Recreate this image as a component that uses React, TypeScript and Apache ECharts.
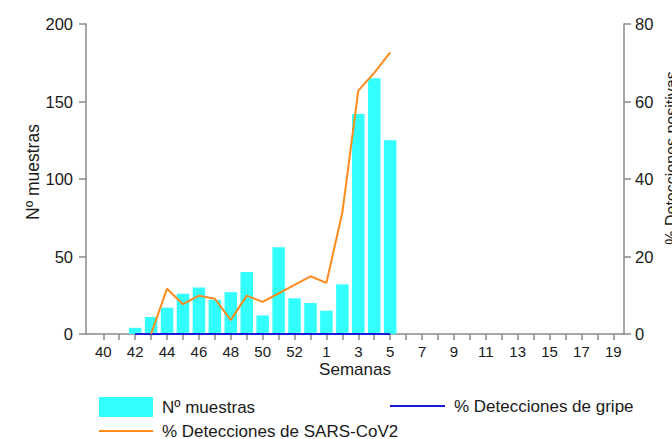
import React, { useEffect, useRef } from "react";
import * as echarts from "echarts";

const weeks: string[] = [
  "40", "41", "42", "43", "44", "45", "46", "47", "48", "49", "50", "51", "52", "53",
  "1", "2", "3", "4", "5", "6", "7", "8", "9", "10", "11", "12", "13", "14", "15", "16", "17", "18", "19",
];

const muestras: (number | null)[] = [
  null, null, 4, 11, 17, 26, 30, 22, 27, 40, 12, 56, 23, 20,
  15, 32, 142, 165, 125, null, null, null, null, null, null, null, null, null, null, null, null, null, null,
];

const gripe: (number | null)[] = [
  null, null, 0, 0, 0, 0, 0, 0, 0, 0, 0, 0, 0, 0,
  0, 0, 0, 0, 0, null, null, null, null, null, null, null, null, null, null, null, null, null, null,
];

const sarsCov2: (number | null)[] = [
  null, null, null, 0, 11.7, 7.7, 9.9, 9.1, 3.6, 9.9, 8.3, 10.5, 12.7, 14.9,
  13.2, 31.4, 62.8, 67.4, 72.7, null, null, null, null, null, null, null, null, null, null, null, null, null, null,
];

const leftTicks = { min: 0, max: 200, interval: 50 };
const rightTicks = { min: 0, max: 80, interval: 20 };

const FONT = "Arial, 'Liberation Sans', sans-serif";
const TEXT = "#1a1a1a";
const AXIS = "#8a8a8a";
const CYAN = "#33ffff";
const BLUE = "#1a1ad6";
const ORANGE = "#ff8a1c";

export default function App() {
  const ref = useRef<HTMLDivElement>(null);

  useEffect(() => {
    if (!ref.current) return;
    const chart = echarts.init(ref.current, undefined, { renderer: "svg" });
    const gridLeft = 95.3;
    const gridTop = 24;
    const gridW = 526;
    const gridH = 310;
    const axisLeftX = 86;
    const axisRightX = 624;
    const axisLine = { show: true, lineStyle: { color: AXIS, width: 1.5 } };
    const axisTick = { show: true, length: 6, lineStyle: { color: AXIS, width: 1.5 } };
    const legendText = { color: TEXT, fontSize: 17, fontFamily: FONT, padding: [0, 0, 0, 4] };

    chart.setOption({
      animation: false,
      textStyle: { fontFamily: FONT },
      grid: { left: gridLeft, top: gridTop, width: gridW, height: gridH, containLabel: false },
      xAxis: {
        type: "category",
        data: weeks,
        boundaryGap: true,
        axisLine,
        axisTick: { ...axisTick, alignWithLabel: true, interval: 0 },
        axisLabel: { interval: 1, color: TEXT, fontSize: 15, margin: 10, fontFamily: FONT },
        splitLine: { show: false },
      },
      yAxis: [
        {
          type: "value",
          position: "left",
          offset: gridLeft - axisLeftX,
          ...leftTicks,
          axisLine,
          axisTick: { ...axisTick, length: 7 },
          axisLabel: { color: TEXT, fontSize: 16.5, margin: 13, fontFamily: FONT },
          splitLine: { show: false },
        },
        {
          type: "value",
          position: "right",
          offset: axisRightX - (gridLeft + gridW),
          ...rightTicks,
          axisLine,
          axisTick: { ...axisTick, length: 7 },
          axisLabel: { color: TEXT, fontSize: 16.5, margin: 11, fontFamily: FONT },
          splitLine: { show: false },
        },
      ],
      legend: [
        {
          left: 99,
          top: 397,
          itemWidth: 54,
          itemHeight: 20,
          padding: 0,
          selectedMode: false,
          textStyle: legendText,
          data: [{ name: "Nº muestras", icon: "rect" }],
        },
        {
          left: 390,
          top: 397.5,
          itemWidth: 55,
          itemHeight: 2,
          padding: 0,
          selectedMode: false,
          textStyle: legendText,
          data: [{ name: "% Detecciones de gripe", icon: "rect" }],
        },
        {
          left: 99,
          top: 422.5,
          itemWidth: 54,
          itemHeight: 2,
          padding: 0,
          selectedMode: false,
          textStyle: legendText,
          data: [{ name: "% Detecciones de SARS-CoV2", icon: "rect" }],
        },
      ],
      series: [
        {
          name: "Nº muestras",
          type: "bar",
          yAxisIndex: 0,
          barWidth: 12.5,
          data: muestras,
          itemStyle: { color: CYAN },
        },
        {
          name: "% Detecciones de gripe",
          type: "line",
          yAxisIndex: 1,
          data: gripe,
          symbol: "none",
          showSymbol: false,
          lineStyle: { color: BLUE, width: 2 },
          itemStyle: { color: BLUE },
          z: 3,
        },
        {
          name: "% Detecciones de SARS-CoV2",
          type: "line",
          yAxisIndex: 1,
          data: sarsCov2,
          symbol: "none",
          showSymbol: false,
          lineStyle: { color: ORANGE, width: 2 },
          itemStyle: { color: ORANGE },
          z: 4,
        },
      ],
      graphic: [
        {
          type: "line",
          shape: { x1: axisLeftX, y1: gridTop + gridH, x2: gridLeft, y2: gridTop + gridH },
          style: { stroke: AXIS, lineWidth: 1.5 },
        },
        {
          type: "line",
          shape: { x1: gridLeft + gridW, y1: gridTop + gridH, x2: axisRightX, y2: gridTop + gridH },
          style: { stroke: AXIS, lineWidth: 1.5 },
        },
        {
          type: "text",
          x: 33,
          y: 172,
          rotation: Math.PI / 2,
          style: {
            text: "Nº muestras",
            fontSize: 17.5,
            fontFamily: FONT,
            fill: TEXT,
            align: "center",
            verticalAlign: "middle",
          },
        },
        {
          type: "text",
          x: 671,
          y: 158,
          rotation: Math.PI / 2,
          style: {
            text: "% Detecciones positivas",
            fontSize: 16,
            fontFamily: FONT,
            fill: TEXT,
            align: "center",
            verticalAlign: "middle",
          },
        },
        {
          type: "text",
          x: 355,
          y: 369,
          style: {
            text: "Semanas",
            fontSize: 17,
            fontFamily: FONT,
            fill: TEXT,
            align: "center",
            verticalAlign: "middle",
          },
        },
      ],
    });
    return () => chart.dispose();
  }, []);

  return (
    <div
      ref={ref}
      style={{ position: "fixed", left: 0, top: 0, width: 672, height: 439, background: "#fff" }}
    />
  );
}
